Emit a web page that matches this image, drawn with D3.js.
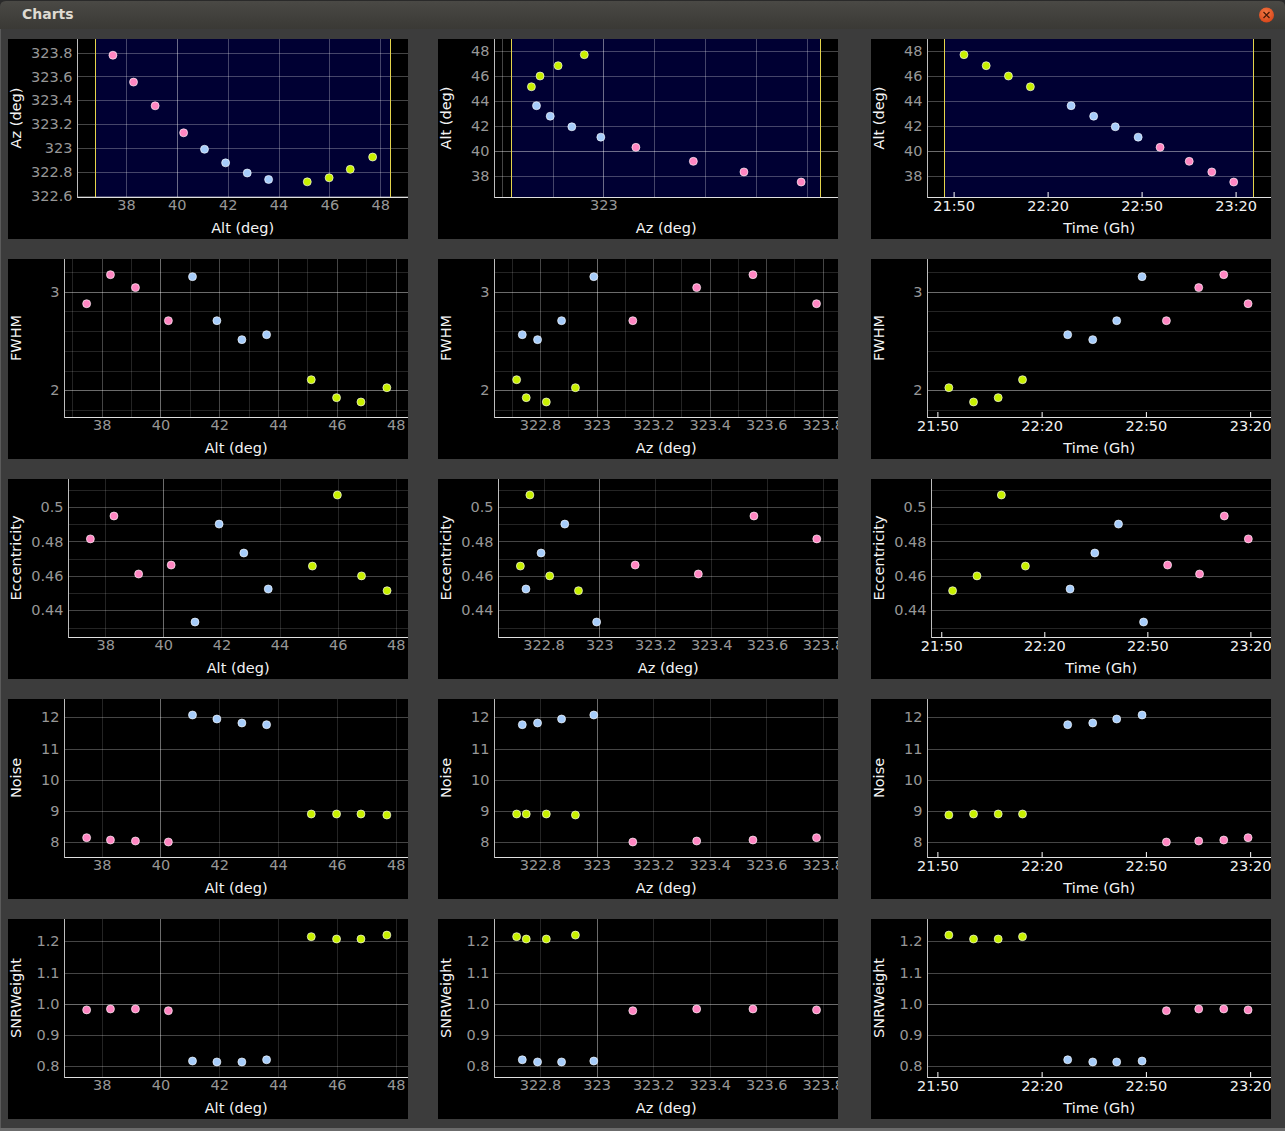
<!DOCTYPE html>
<html><head><meta charset="utf-8">
<script src="https://cdn.jsdelivr.net/npm/d3@7"></script>
<style>
html,body{margin:0;padding:0;background:#3c3c3c;overflow:hidden;}
svg{display:block;font-family:"DejaVu Sans",sans-serif;}
</style></head><body>
<svg id="c" width="1285" height="1131"></svg>
<script>
// ---------- data (time order) ----------
const times = ["21:53:18","22:00:24","22:07:30","22:14:30","22:27:30","22:34:42","22:41:36","22:48:54","22:55:54","23:05:12","23:12:24","23:19:24"];
const alt   = [47.70,46.82,45.99,45.13,43.61,42.77,41.92,41.09,40.27,39.15,38.30,37.49];
const az    = [322.925,322.822,322.751,322.717,322.737,322.791,322.876,322.990,323.128,323.354,323.553,323.778];
const fwhm  = [2.027,1.882,1.926,2.108,2.564,2.514,2.706,3.152,2.706,3.041,3.172,2.878];
const ecc   = [0.4514,0.4600,0.5070,0.4657,0.4524,0.4733,0.4901,0.4332,0.4663,0.4611,0.4948,0.4815];
const noise = [8.875,8.907,8.907,8.907,11.765,11.819,11.947,12.075,8.011,8.043,8.075,8.149];
const snr   = [1.220,1.2075,1.2075,1.215,0.820,0.813,0.813,0.816,0.9775,0.983,0.983,0.980];
const group = ["A","A","A","A","B","B","B","B","C","C","C","C"];
const groupColors = {A:"#c8f000", B:"#a6ccfa", C:"#ff86c2"};

// ---------- tick labels ----------
const altTicks   = [38,40,42,44,46,48];
const azTicks    = [322.6,322.8,323,323.2,323.4,323.6,323.8];
const azTicksRow1 = [323];
const timeTicks  = ["21:50:00","22:20:00","22:50:00","23:20:00"];
const fwhmTicks  = [2,3];
const eccTicks   = [0.44,0.46,0.48,0.5];
const noiseTicks = [8,9,10,11,12];
const snrTicks   = [0.8,0.9,1.0,1.1,1.2];

// ---------- scale domains ----------
const altDomainRow1X = [36.09, 49.09], altBandRow1 = [36.77, 48.39];
const azDomainRow1Y  = [322.59, 323.914];
const azDomainRow1X  = [322.571, 323.923], azBandRow1 = [322.638, 323.853];
const altDomainRow1Y = [36.29, 48.96];
const timeDomainRow1 = ["21:41:36","23:31:18"], timeBandRow1 = ["21:47:00","23:25:42"];
const altDomain  = [36.73, 48.42];
const azDomain   = [322.638, 323.854];
const timeDomain = ["21:47:06","23:26:00"];
const fwhmDomain = [1.730, 3.331];
const eccDomain  = [0.4245, 0.5163];
const noiseDomain= [7.531, 12.587];
const snrDomain  = [0.7647, 1.2717];

// ---------- helpers ----------
const T = s => { const [h,m,sec] = s.split(":").map(Number); return new Date(2020,0,1,h,m,sec); };
const trim = d => String(+(+d).toFixed(2));
const f1 = d3.format(".1f");
const tf = d3.timeFormat("%H:%M");
const gridAlpha = {d:0.14, m:0.27, b:0.42};

const specs = {
  altR1x: {time:false, vals:alt, domain:altDomainRow1X, band:altBandRow1, labels:altTicks, fmt:trim,
           grid:altTicks.map(v=>[v, v===40?"b":"m"]), title:"Alt (deg)"},
  azR1y:  {time:false, vals:az, domain:azDomainRow1Y, labels:azTicks, fmt:trim,
           grid:azTicks.map(v=>[v,"m"]), title:"Az (deg)", left:69.3},
  azR1x:  {time:false, vals:az, domain:azDomainRow1X, band:azBandRow1, labels:azTicksRow1, fmt:trim,
           grid:azTicks.map(v=>[v, v===323?"b":"m"]), title:"Az (deg)"},
  altR1y: {time:false, vals:alt, domain:altDomainRow1Y, labels:altTicks, fmt:trim,
           grid:altTicks.map(v=>[v, v===40?"b":"m"]), title:"Alt (deg)"},
  timeR1x:{time:true, vals:times.map(T), domain:timeDomainRow1.map(T), band:timeBandRow1.map(T), labels:timeTicks.map(T), fmt:tf,
           grid:[], title:"Time (Gh)"},
  altX2:  {time:false, vals:alt, domain:altDomain, labels:altTicks, fmt:trim,
           grid:d3.range(37,49).map(v=>[v, v===40?"b":(v%2===0?"m":"d")]), title:"Alt (deg)"},
  altX:   {time:false, vals:alt, domain:altDomain, labels:altTicks, fmt:trim,
           grid:altTicks.map(v=>[v, v===40?"b":"d"]), title:"Alt (deg)"},
  azX2:   {time:false, vals:az, domain:azDomain, labels:azTicks, fmt:trim,
           grid:d3.range(0,12).map(i=>{const v=+(322.7+i*0.1).toFixed(1); return [v, v===323?"b":(Math.round(v*10)%2===0?"m":"d")];}), title:"Az (deg)"},
  azX:    {time:false, vals:az, domain:azDomain, labels:azTicks, fmt:trim,
           grid:azTicks.map(v=>[v, v===323?"b":"d"]), title:"Az (deg)"},
  timeX:  {time:true, vals:times.map(T), domain:timeDomain.map(T), labels:timeTicks.map(T), fmt:tf,
           grid:[], title:"Time (Gh)"},
  fwhmY:  {time:false, vals:fwhm, domain:fwhmDomain, labels:fwhmTicks, fmt:trim,
           grid:[1.8,2,2.2,2.4,2.6,2.8,3,3.2].map(v=>[v, (v===2||v===3)?"b":"d"]), title:"FWHM"},
  eccY:   {time:false, vals:ecc, domain:eccDomain, labels:eccTicks, fmt:trim,
           grid:d3.range(0,9).map(i=>{const v=+(0.43+i*0.01).toFixed(2); return [v, Math.round(v*100)%2===0?"m":"d"];}), title:"Eccentricity", left:60.3},
  noiseY: {time:false, vals:noise, domain:noiseDomain, labels:noiseTicks, fmt:trim,
           grid:noiseTicks.map(v=>[v,"m"]), title:"Noise"},
  snrY:   {time:false, vals:snr, domain:snrDomain, labels:snrTicks, fmt:f1,
           grid:snrTicks.map(v=>[v, v===1.0?"b":"m"]), title:"SNRWeight"}
};

const layout = [
  [["altR1x","azR1y"],["azR1x","altR1y"],["timeR1x","altR1y"]],
  [["altX2","fwhmY"],["azX2","fwhmY"],["timeX","fwhmY"]],
  [["altX","eccY"],["azX","eccY"],["timeX","eccY"]],
  [["altX","noiseY"],["azX","noiseY"],["timeX","noiseY"]],
  [["altX","snrY"],["azX","snrY"],["timeX","snrY"]]
];

const colX = [8,438,871], rowY = [39,259,479,699,919];
const PW = 400, PH = 200, plotH = 158, FS = 14.5;

const svg = d3.select("#c");

// ---------- window chrome ----------
const defs = svg.append("defs");
const tg = defs.append("linearGradient").attr("id","tb").attr("x1",0).attr("y1",0).attr("x2",0).attr("y2",1);
tg.append("stop").attr("offset",0).attr("stop-color","#4a4945");
tg.append("stop").attr("offset",1).attr("stop-color","#3a3935");
const cg = defs.append("radialGradient").attr("id","cb").attr("cx","45%").attr("cy","35%").attr("r","65%");
cg.append("stop").attr("offset",0).attr("stop-color","#f57a45");
cg.append("stop").attr("offset",1).attr("stop-color","#d8461a");

svg.append("rect").attr("width",1285).attr("height",1131).attr("fill","#2a2a2a");
svg.append("path").attr("d","M0,7 Q0,1 6,1 L1279,1 Q1285,1 1285,7 L1285,29 L0,29 Z").attr("fill","url(#tb)");
svg.append("rect").attr("x",0).attr("y",29).attr("width",1285).attr("height",1099).attr("fill","#3c3c3c");
svg.append("rect").attr("x",0).attr("y",1128).attr("width",1285).attr("height",3).attr("fill","#6b6b6b");
svg.append("line").attr("x1",0.5).attr("x2",0.5).attr("y1",29).attr("y2",1128).attr("stroke","#5a5a5a");
svg.append("text").attr("x",22).attr("y",19).attr("fill","#dfdbd2").attr("font-weight","bold")
   .attr("font-size",14).text("Charts");
svg.append("circle").attr("cx",1266.5).attr("cy",15).attr("r",7.5).attr("fill","url(#cb)");
svg.append("path").attr("d","M1263.5,12 L1269.5,18 M1269.5,12 L1263.5,18").attr("stroke","#4a1a08").attr("stroke-width",1.3);

// ---------- panels ----------
layout.forEach((row, ri) => row.forEach((pair, ci) => {
  const sx = specs[pair[0]], sy = specs[pair[1]];
  const left = sy.left || 56.3;
  const g = svg.append("g").attr("transform", `translate(${colX[ci]},${rowY[ri]})`);
  const cid = `clip${ri}_${ci}`;
  defs.append("clipPath").attr("id",cid).append("rect").attr("width",PW).attr("height",PH);
  g.attr("clip-path", `url(#${cid})`);
  g.append("rect").attr("width",PW).attr("height",PH).attr("fill","#000");

  const xs = (sx.time ? d3.scaleTime() : d3.scaleLinear()).domain(sx.domain).range([left, PW]);
  const ys = d3.scaleLinear().domain(sy.domain).range([plotH, 0]);
  const ax = Math.round(left) + 0.5;
  const px = v => Math.round(xs(v)) + 0.5;
  const py = v => Math.round(ys(v)) + 0.5;
  const inX = v => +v >= +sx.domain[0] && +v <= +sx.domain[1];
  const inY = v => v >= sy.domain[0] && v <= sy.domain[1];

  // band
  if (sx.band) {
    g.append("rect").attr("x", px(sx.band[0])).attr("y",0)
     .attr("width", px(sx.band[1]) - px(sx.band[0])).attr("height", plotH).attr("fill","#000033");
  }
  // grid
  const grid = g.append("g");
  grid.selectAll("line.gx").data(sx.grid.filter(d=>inX(d[0]))).join("line")
    .attr("x1",d=>px(d[0])).attr("x2",d=>px(d[0])).attr("y1",0).attr("y2",plotH)
    .attr("stroke","#fff").attr("stroke-opacity",d=>gridAlpha[d[1]]);
  grid.selectAll("line.gy").data(sy.grid.filter(d=>inY(d[0]))).join("line")
    .attr("x1",ax).attr("x2",PW).attr("y1",d=>py(d[0])).attr("y2",d=>py(d[0]))
    .attr("stroke","#fff").attr("stroke-opacity",d=>gridAlpha[d[1]]);
  if (sx.band) {
    sx.band.forEach(b => g.append("line").attr("x1",px(b)).attr("x2",px(b)).attr("y1",0).attr("y2",plotH)
      .attr("stroke","#e4d44c").attr("stroke-width",1));
  }

  // x axis
  const xa = d3.axisBottom(xs).tickValues(sx.labels.filter(inX)).tickFormat(sx.fmt)
    .tickSizeOuter(0).tickSizeInner(sx.time ? -5 : 0).tickPadding(sx.time ? 4 : 3);
  const gx = g.append("g").attr("transform",`translate(0,${plotH})`).call(xa);
  gx.select(".domain").remove();
  gx.selectAll("text").attr("font-size",FS).attr("font-family","DejaVu Sans")
    .attr("fill", sx.time ? "#f2f2f2" : "#979797");
  gx.selectAll("line").attr("stroke","#ffffff");
  g.append("line").attr("x1",ax).attr("x2",PW).attr("y1",plotH+0.5).attr("y2",plotH+0.5)
    .attr("stroke", "#e0e0e0");

  // y axis
  const ya = d3.axisLeft(ys).tickValues(sy.labels.filter(inY)).tickFormat(sy.fmt)
    .tickSizeOuter(0).tickSizeInner(0).tickPadding(5);
  const gy = g.append("g").attr("transform",`translate(${ax},0)`).call(ya);
  gy.select(".domain").remove();
  gy.selectAll("line").remove();
  gy.selectAll("text").attr("font-size",FS).attr("font-family","DejaVu Sans").attr("fill","#979797");
  g.append("line").attr("x1",ax).attr("x2",ax).attr("y1",0).attr("y2",plotH+1)
    .attr("stroke","#bdbdbd");

  // titles
  g.append("text").attr("x",(left+PW)/2).attr("y",193.5).attr("text-anchor","middle")
    .attr("font-size",FS).attr("fill","#f4f4f4").text(sx.title);
  g.append("text").attr("transform",`translate(12.5,${plotH/2}) rotate(-90)`).attr("text-anchor","middle")
    .attr("font-size",FS).attr("fill","#f4f4f4").text(sy.title);

  // points
  g.append("g").selectAll("circle").data(d3.range(sx.vals.length)).join("circle")
    .attr("cx", i => xs(sx.vals[i])).attr("cy", i => ys(sy.vals[i])).attr("r",4)
    .attr("fill", i => groupColors[group[i]])
    .attr("stroke","#ffffff").attr("stroke-opacity",0.7).attr("stroke-width",0.9);
}));
</script>
</body></html>
